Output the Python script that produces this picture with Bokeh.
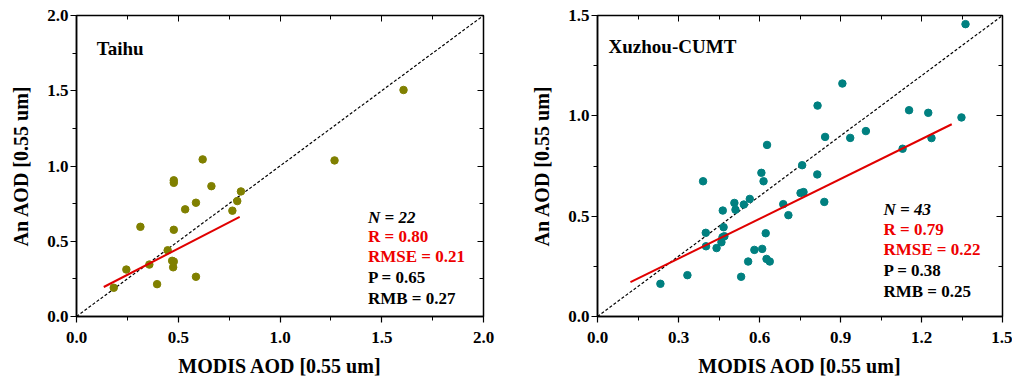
from bokeh.plotting import figure
from bokeh.layouts import row
from bokeh.models import Range1d, LinearAxis, SingleIntervalTicker, CustomJSTickFormatter, Title
from bokeh.core.properties import value
from bokeh.embed import file_html
from bokeh.resources import INLINE

# ---------------- data ----------------
taihu_modis = [1.607, 1.268, 0.620, 0.478, 0.478, 0.663, 0.808, 0.790, 0.587, 0.766, 0.534,
               0.314, 0.478, 0.448, 0.478, 0.475, 0.358, 0.245, 0.587, 0.396, 0.183, 0.470]
taihu_an = [1.505, 1.037, 1.044, 0.905, 0.888, 0.866, 0.831, 0.767, 0.756, 0.703, 0.712,
            0.596, 0.576, 0.440, 0.365, 0.327, 0.345, 0.312, 0.264, 0.215, 0.191, 0.370]
taihu_fit_x = [0.134, 0.802]
taihu_fit_y = [0.196, 0.662]

xz_modis = [1.363, 0.907, 0.815, 1.154, 1.225, 1.348, 0.994, 0.843, 0.936, 1.237, 0.628,
            1.130, 0.758, 0.607, 0.814, 0.391, 0.615, 0.752, 0.763, 0.564, 0.507, 0.542,
            0.688, 0.511, 0.464, 0.840, 0.707, 0.467, 0.401, 0.623, 0.463, 0.459, 0.402,
            0.441, 0.581, 0.610, 0.626, 0.638, 0.558, 0.333, 0.532, 0.233, 0.470]
xz_an = [1.457, 1.161, 1.051, 1.028, 1.015, 0.992, 0.924, 0.895, 0.890, 0.889, 0.855,
         0.836, 0.754, 0.716, 0.708, 0.674, 0.674, 0.615, 0.620, 0.586, 0.566, 0.558,
         0.560, 0.532, 0.528, 0.571, 0.505, 0.445, 0.417, 0.415, 0.395, 0.370, 0.350,
         0.341, 0.332, 0.337, 0.287, 0.274, 0.274, 0.206, 0.198, 0.163, 0.400]
xz_fit_x = [0.122, 1.312]
xz_fit_y = [0.171, 0.958]

taihu_diag = [0.0, 2.0]
xz_diag = [0.0, 1.5]

taihu_stats = ["N = 22", "R = 0.80", "RMSE = 0.21", "P = 0.65", "RMB = 0.27"]
taihu_stats_y = [0.659, 0.534, 0.396, 0.257, 0.119]
taihu_stats_x = 1.432
xz_stats = ["N = 43", "R = 0.79", "RMSE = 0.22", "P = 0.38", "RMB = 0.25"]
xz_stats_y = [0.532, 0.435, 0.332, 0.229, 0.125]
xz_stats_x = 1.059
stats_colors = ["black", "#ee0000", "#ee0000", "black", "black"]
stats_styles = ["bold italic", "bold", "bold", "bold", "bold"]

x_label = "MODIS AOD [0.55 um]"
y_label = "An AOD [0.55 um]"

FONT = "Liberation Serif"


def make_panel(title, tx, ty, xs, ys, color, fx, fy, diag, xmax, ymax, xstep, ystep,
               stats, sx, sy, width, height, bl, br, bt, bb):
    p = figure(width=width, height=height, output_backend="svg", toolbar_location=None,
               x_range=Range1d(0, xmax), y_range=Range1d(0, ymax),
               min_border_left=bl, min_border_right=br, min_border_top=bt, min_border_bottom=bb,
               y_axis_label=y_label)
    p.grid.visible = False
    p.outline_line_color = "black"
    p.outline_line_width = 1.5
    p.background_fill_color = "white"
    p.border_fill_color = "white"

    p.xaxis.ticker = SingleIntervalTicker(interval=xstep, num_minor_ticks=2)
    p.yaxis.ticker = SingleIntervalTicker(interval=ystep, num_minor_ticks=2)
    for ax in (p.xaxis[0], p.yaxis[0]):
        ax.axis_line_color = "black"
        ax.axis_line_width = 1.5
        ax.major_tick_line_color = "black"
        ax.minor_tick_line_color = "black"
        ax.major_tick_line_width = 1.2
        ax.minor_tick_line_width = 1.0
        ax.major_tick_out = 6
        ax.major_tick_in = 0
        ax.minor_tick_out = 4
        ax.minor_tick_in = 0
        ax.major_label_text_font = FONT
        ax.major_label_text_font_style = "bold"
        ax.major_label_text_font_size = "17px"
        ax.major_label_text_color = "black"
        ax.axis_label_text_font = FONT
        ax.axis_label_text_font_style = "bold"
        ax.axis_label_text_font_size = "20px"
        ax.axis_label_text_color = "black"
    p.xaxis.major_label_standoff = 9
    p.yaxis.major_label_standoff = 2
    p.yaxis.axis_label_standoff = 12
    p.xaxis.formatter = CustomJSTickFormatter(code="return tick.toFixed(1);")
    p.yaxis.formatter = CustomJSTickFormatter(code="return tick.toFixed(1);")

    blank = CustomJSTickFormatter(code="return '';")
    top = LinearAxis(ticker=SingleIntervalTicker(interval=xstep, num_minor_ticks=2), formatter=blank)
    right = LinearAxis(ticker=SingleIntervalTicker(interval=ystep, num_minor_ticks=2), formatter=blank)
    for ax in (top, right):
        ax.axis_line_color = None
        ax.major_tick_line_color = "black"
        ax.minor_tick_line_color = "black"
        ax.major_tick_in = 6
        ax.major_tick_out = 0
        ax.minor_tick_in = 4
        ax.minor_tick_out = 0
        ax.major_label_standoff = 0
        ax.major_label_text_font_size = "1px"
    p.add_layout(top, "above")
    p.add_layout(right, "right")

    p.line(diag, diag, line_color="black", line_dash="3 2", line_width=1.2)
    p.scatter(xs, ys, size=7.5, fill_color=color, line_color=color)
    p.line(fx, fy, line_color="#e00000", line_width=2)

    p.text(x=[tx], y=[ty], text=[title], text_font=value(FONT), text_font_style="bold",
           text_font_size="19px", text_baseline="middle", text_align="left", text_color="black")

    for s, yy, c, st in zip(stats, sy, stats_colors, stats_styles):
        p.text(x=[sx], y=[yy], text=[s], text_font=value(FONT), text_font_style=st,
               text_font_size="17px", text_baseline="middle", text_align="left", text_color=c)

    p.add_layout(Title(text=x_label, align="center", text_font=FONT, text_font_style="bold",
                       text_font_size="20px", text_color="black", standoff=14), "below")
    return p


p1 = make_panel("Taihu", 0.10, 1.78, taihu_modis, taihu_an, "#808000",
                taihu_fit_x, taihu_fit_y, taihu_diag, 2.0, 2.0, 0.5, 0.5,
                taihu_stats, taihu_stats_x, taihu_stats_y,
                width=520, height=383, bl=76, br=37, bt=15, bb=66)
p2 = make_panel("Xuzhou-CUMT", 0.041, 1.345, xz_modis, xz_an, "#008080",
                xz_fit_x, xz_fit_y, xz_diag, 1.5, 1.5, 0.3, 0.5,
                xz_stats, xz_stats_x, xz_stats_y,
                width=492, height=383, bl=77, br=10, bt=15, bb=66)

layout = row(p1, p2)
open("out.html", "w").write(file_html(layout, INLINE))
